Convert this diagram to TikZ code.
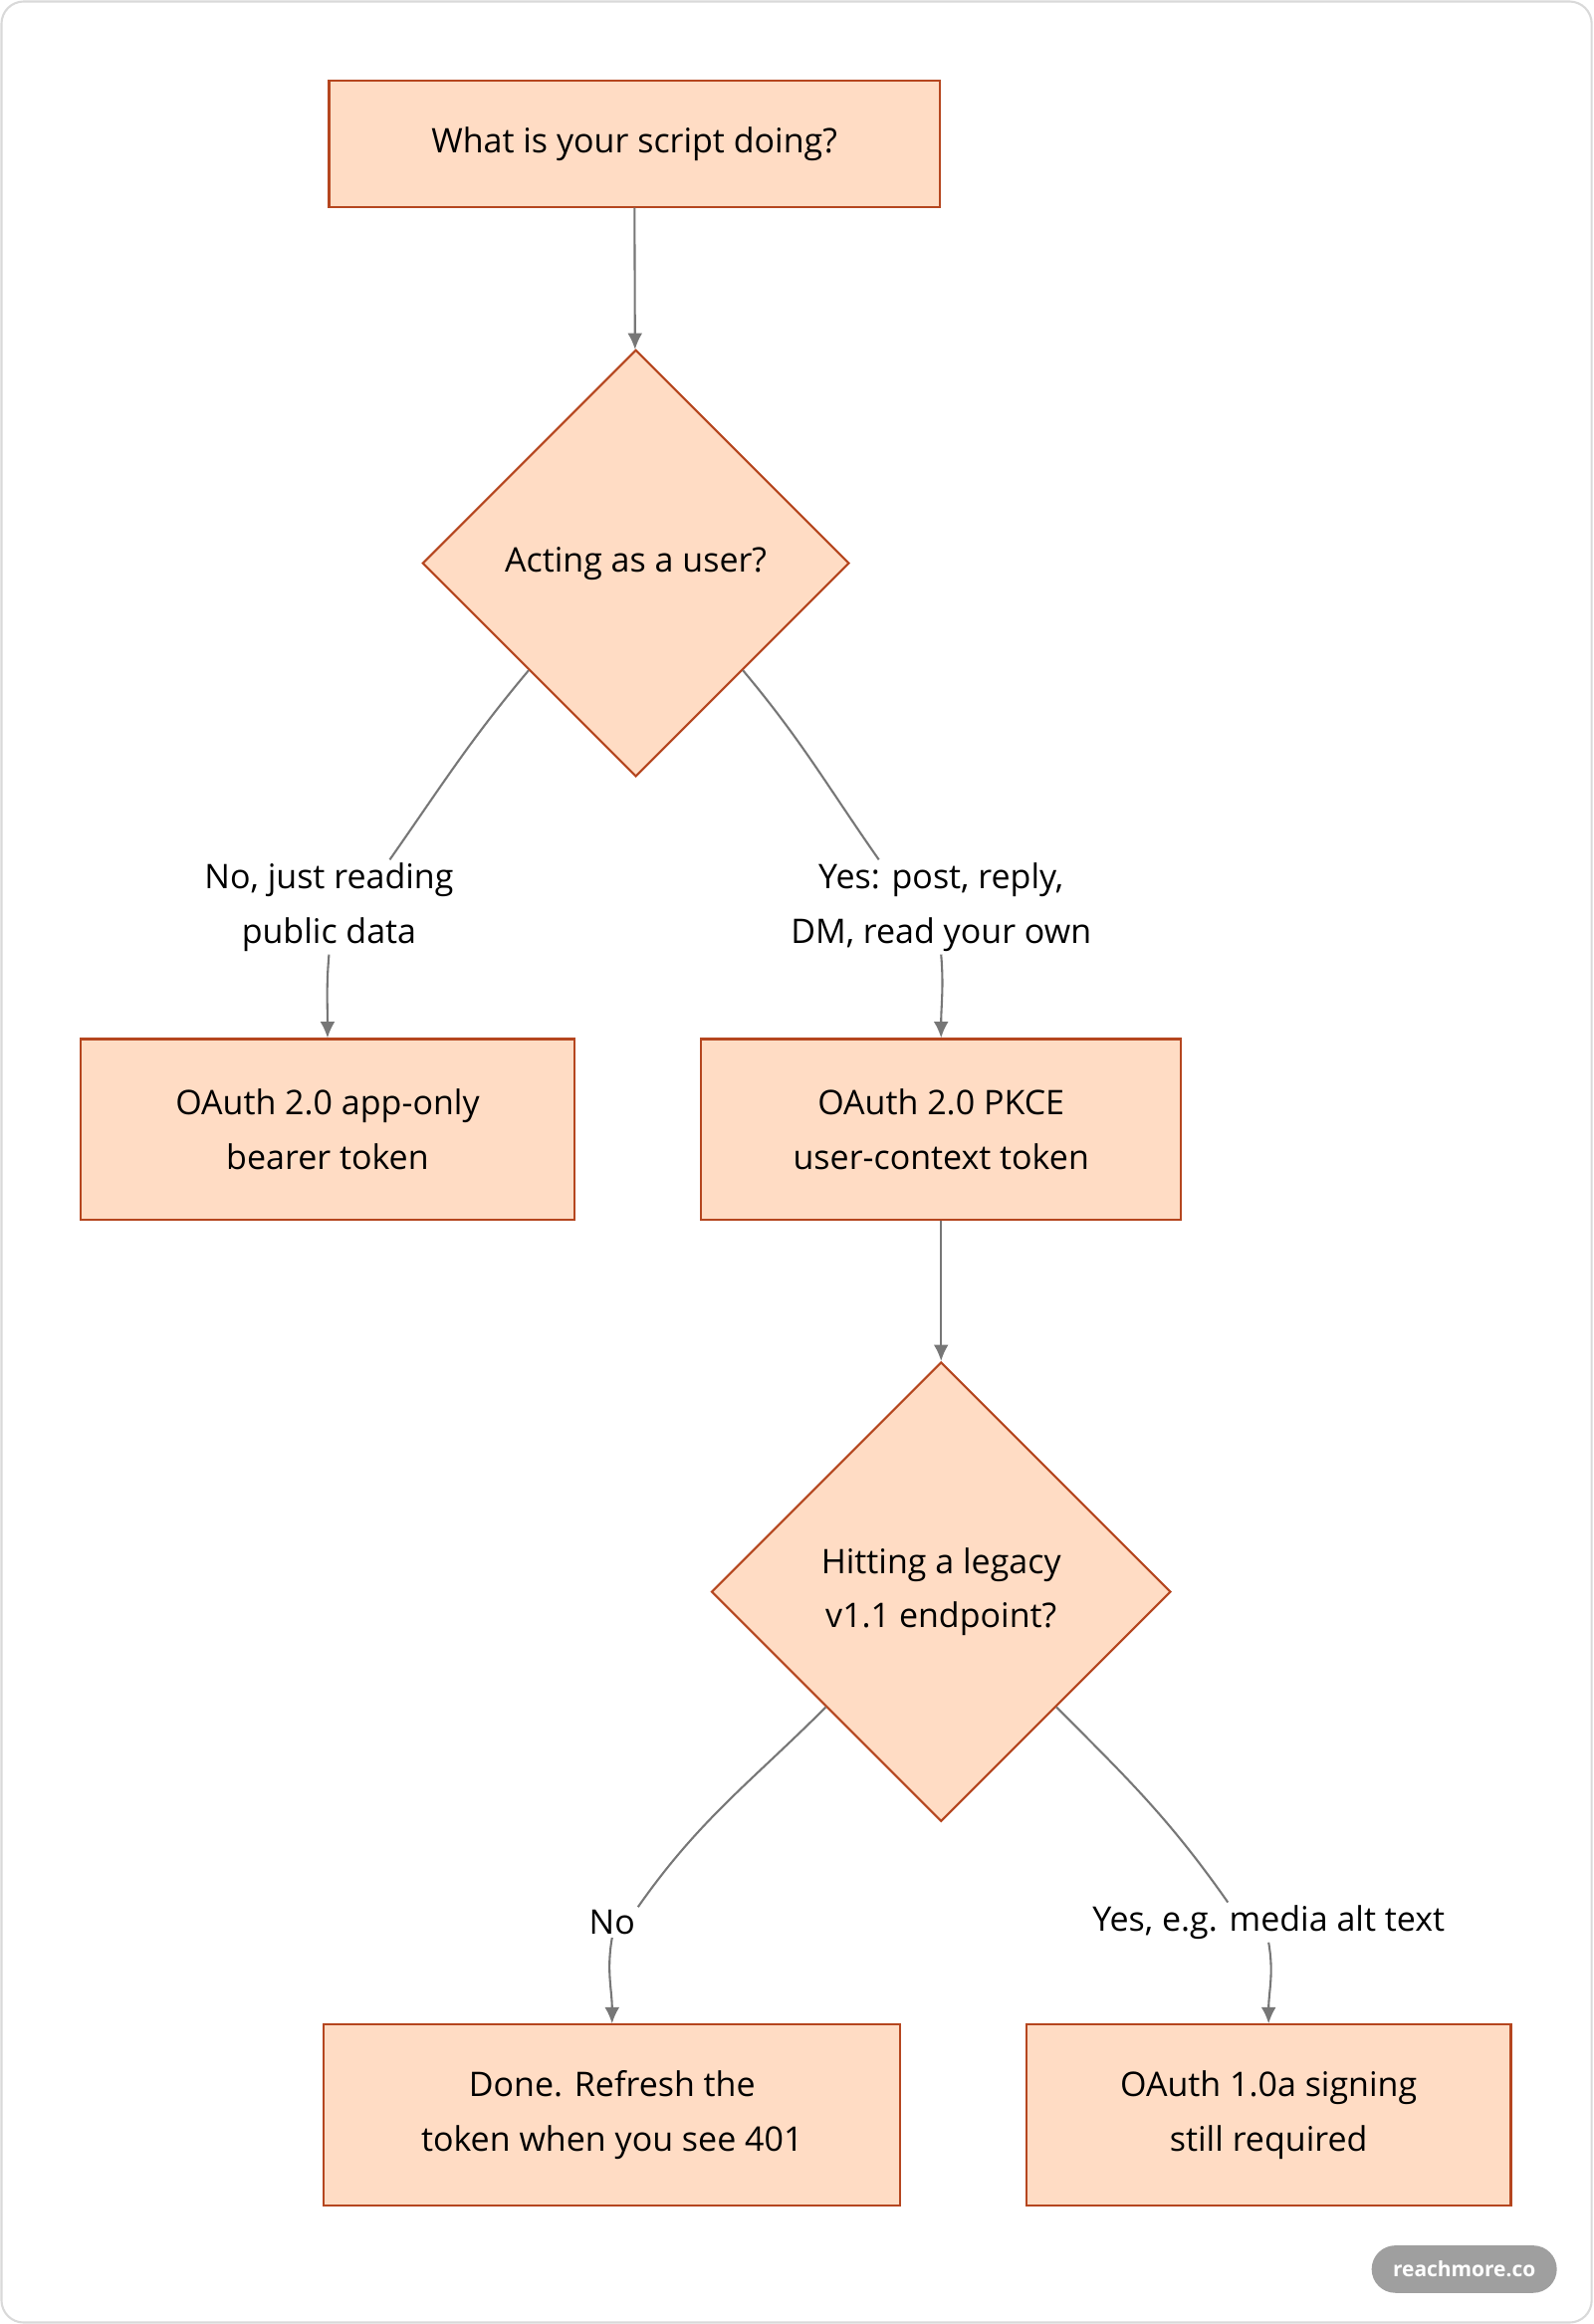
\documentclass[tikz,border=0pt]{standalone}
\usepackage{fontspec}
\setmainfont{Open Sans}
\usetikzlibrary{shapes.geometric,arrows.meta}
\definecolor{boxfill}{HTML}{FFDCC4}
\definecolor{boxline}{HTML}{B5461F}
\definecolor{edgegrey}{HTML}{777777}
\begin{document}
\begin{tikzpicture}
	[x=0.02cm, y=-0.02cm,
	font=\fontsize{13}{21}\selectfont,
	stage/.style={rectangle,draw=boxline,fill=boxfill,thick,align=center,minimum height=2.44cm},
	ask/.style={diamond,draw=boxline,fill=boxfill,thick,align=center,inner sep=0pt},
	tag/.style={align=center,fill=white,inner sep=1pt},
	link/.style={draw=edgegrey,thick},
	arrow/.style={draw=edgegrey,thick,-{Latex[length=2.2mm,width=2mm]}}]
	\draw [gray!30,thick,rounded corners=0.3cm] (1,1) rectangle (1074,1567);
	\useasboundingbox (0,0) rectangle (1075,1568);
	\node (script) at (428, 97) [stage,minimum width=8.24cm,minimum height=1.7cm] {What is your script doing?};
	\node (user) at (429, 380) [ask,minimum size=5.76cm] {Acting as a user?};
	\node (nolab) at (222, 612) [tag] {No, just reading\\public data};
	\node (yeslab) at (635, 612) [tag] {Yes: post, reply,\\DM, read your own};
	\node (apponly) at (221, 762) [stage,minimum width=6.66cm] {OAuth 2.0 app-only\\bearer token};
	\node (pkce) at (635, 762) [stage,minimum width=6.48cm] {OAuth 2.0 PKCE\\user-context token};
	\node (legacy) at (635, 1074) [ask,minimum size=6.2cm] {Hitting a legacy\\v1.1 endpoint?};
	\node (nolab2) at (413, 1297) [tag] {No};
	\node (yeslab2) at (856, 1297) [tag] {Yes, e.g. media alt text};
	\node (done) at (413, 1427) [stage,minimum width=7.78cm] {Done. Refresh the\\token when you see 401};
	\node (signing) at (856, 1427) [stage,minimum width=6.54cm] {OAuth 1.0a signing\\still required};
	\node (badge) at (988, 1531) [fill=gray!75,text=white,rounded corners=0.32cm,minimum width=2.5cm,minimum height=0.64cm,font=\fontsize{8}{10}\selectfont\bfseries] {reachmore.co};
	\draw [arrow] (script) to (user);
	\draw [link] (user.south west) to [out=-130,in=55] ([xshift=0.82cm]nolab.north);
	\draw [arrow] (nolab.south) to [out=-95,in=90] (apponly.north);
	\draw [link] (user.south east) to [out=-50,in=125] ([xshift=-0.84cm]yeslab.north);
	\draw [arrow] (yeslab.south) to [out=-85,in=90] (pkce.north);
	\draw [arrow] (pkce) to (legacy);
	\draw [link] (legacy.south west) to [out=-135,in=55] ([xshift=0.35cm]nolab2.north);
	\draw [arrow] (nolab2.south) to [out=-100,in=90] (done.north);
	\draw [link] (legacy.south east) to [out=-45,in=125] ([xshift=-0.55cm]yeslab2.north);
	\draw [arrow] (yeslab2.south) to [out=-80,in=90] (signing.north);
\end{tikzpicture}
\end{document}
